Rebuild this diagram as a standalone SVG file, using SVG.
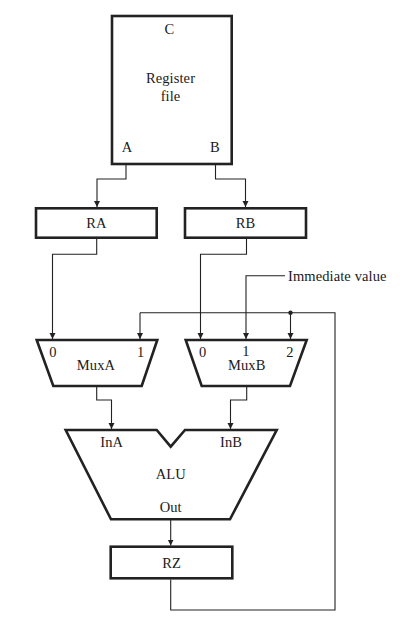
<svg xmlns="http://www.w3.org/2000/svg" width="411" height="623" viewBox="0 0 411 623">
<style>
.box{fill:#fff;stroke:#222;stroke-width:2.6;stroke-linejoin:miter}
.wire{fill:none;stroke:#222;stroke-width:1.1}
.t{font-family:"Liberation Serif","Times New Roman",serif;font-size:14.5px;fill:#1a1a1a;text-anchor:middle;dominant-baseline:central;letter-spacing:0.1px}
</style>
<defs>
<marker id="arr" viewBox="0 0 10 10" refX="10" refY="5" markerWidth="6" markerHeight="7" markerUnits="userSpaceOnUse" orient="auto">
<path d="M0,0 L10,5 L0,10 z" fill="#222"/>
</marker>
</defs>
<rect width="411" height="623" fill="#fff"/>
<g id="connectors">
<polyline class="wire" points="126,165 126,179 97,179 97,207" marker-end="url(#arr)"/>
<polyline class="wire" points="215.5,165 215.5,179 245.5,179 245.5,207" marker-end="url(#arr)"/>
<polyline class="wire" points="96.7,239 96.7,254.3 52.5,254.3 52.5,339" marker-end="url(#arr)"/>
<polyline class="wire" points="246.5,239 246.5,254.3 200.5,254.3 200.5,339" marker-end="url(#arr)"/>
<polyline class="wire" points="285,275.7 246,275.7 246,339" marker-end="url(#arr)"/>
<polyline class="wire" points="140,312.7 335,312.7 335,610 170.7,610 170.7,579.5"/>
<line class="wire" x1="140" y1="312.7" x2="140" y2="339" marker-end="url(#arr)"/>
<line class="wire" x1="290.5" y1="312.7" x2="290.5" y2="339" marker-end="url(#arr)"/>
<circle cx="290.5" cy="312.7" r="2.2" fill="#222"/>
<polyline class="wire" points="96.7,387 96.7,400 111.5,400 111.5,429" marker-end="url(#arr)"/>
<polyline class="wire" points="246.7,387 246.7,400 230.5,400 230.5,429" marker-end="url(#arr)"/>
<line class="wire" x1="170.7" y1="520" x2="170.7" y2="545.5" marker-end="url(#arr)"/>
</g>
<g id="regfile">
<rect class="box" x="112" y="16" width="119.7" height="148"/>
<text class="t" x="169.5" y="29">C</text>
<text class="t" x="170.5" y="78">Register</text>
<text class="t" x="170.5" y="96">file</text>
<text class="t" x="127" y="146.5">A</text>
<text class="t" x="215" y="146.5">B</text>
</g>
<g id="RA">
<rect class="box" x="36" y="208.3" width="120.7" height="29.4"/>
<text class="t" x="96.5" y="223">RA</text>
</g>
<g id="RB">
<rect class="box" x="185" y="208.3" width="121" height="29.4"/>
<text class="t" x="245.5" y="223">RB</text>
</g>
<g id="imm">
<text class="t" x="288" y="275.7" style="text-anchor:start">Immediate value</text>
</g>
<g id="MuxA">
<polygon class="box" points="36.7,340 157.3,340 141.7,386 53.3,386"/>
<text class="t" x="53" y="352">0</text>
<text class="t" x="140.7" y="352">1</text>
<text class="t" x="96" y="364.5">MuxA</text>
</g>
<g id="MuxB">
<polygon class="box" points="185.7,340 306.7,340 290,386 201.7,386"/>
<text class="t" x="202.7" y="352">0</text>
<text class="t" x="246" y="351">1</text>
<text class="t" x="290" y="352">2</text>
<text class="t" x="246.7" y="365">MuxB</text>
</g>
<g id="ALU">
<polygon class="box" points="65.7,430 156.7,430 170.7,446.7 185,430 276.7,430 230,519.3 111,519.3"/>
<text class="t" x="111.7" y="441.7">InA</text>
<text class="t" x="231" y="441.7">InB</text>
<text class="t" x="170.7" y="474">ALU</text>
<text class="t" x="170.7" y="507">Out</text>
</g>
<g id="RZ">
<rect class="box" x="110.7" y="546.7" width="121.6" height="31.6"/>
<text class="t" x="171.5" y="562.5">RZ</text>
</g>
</svg>
